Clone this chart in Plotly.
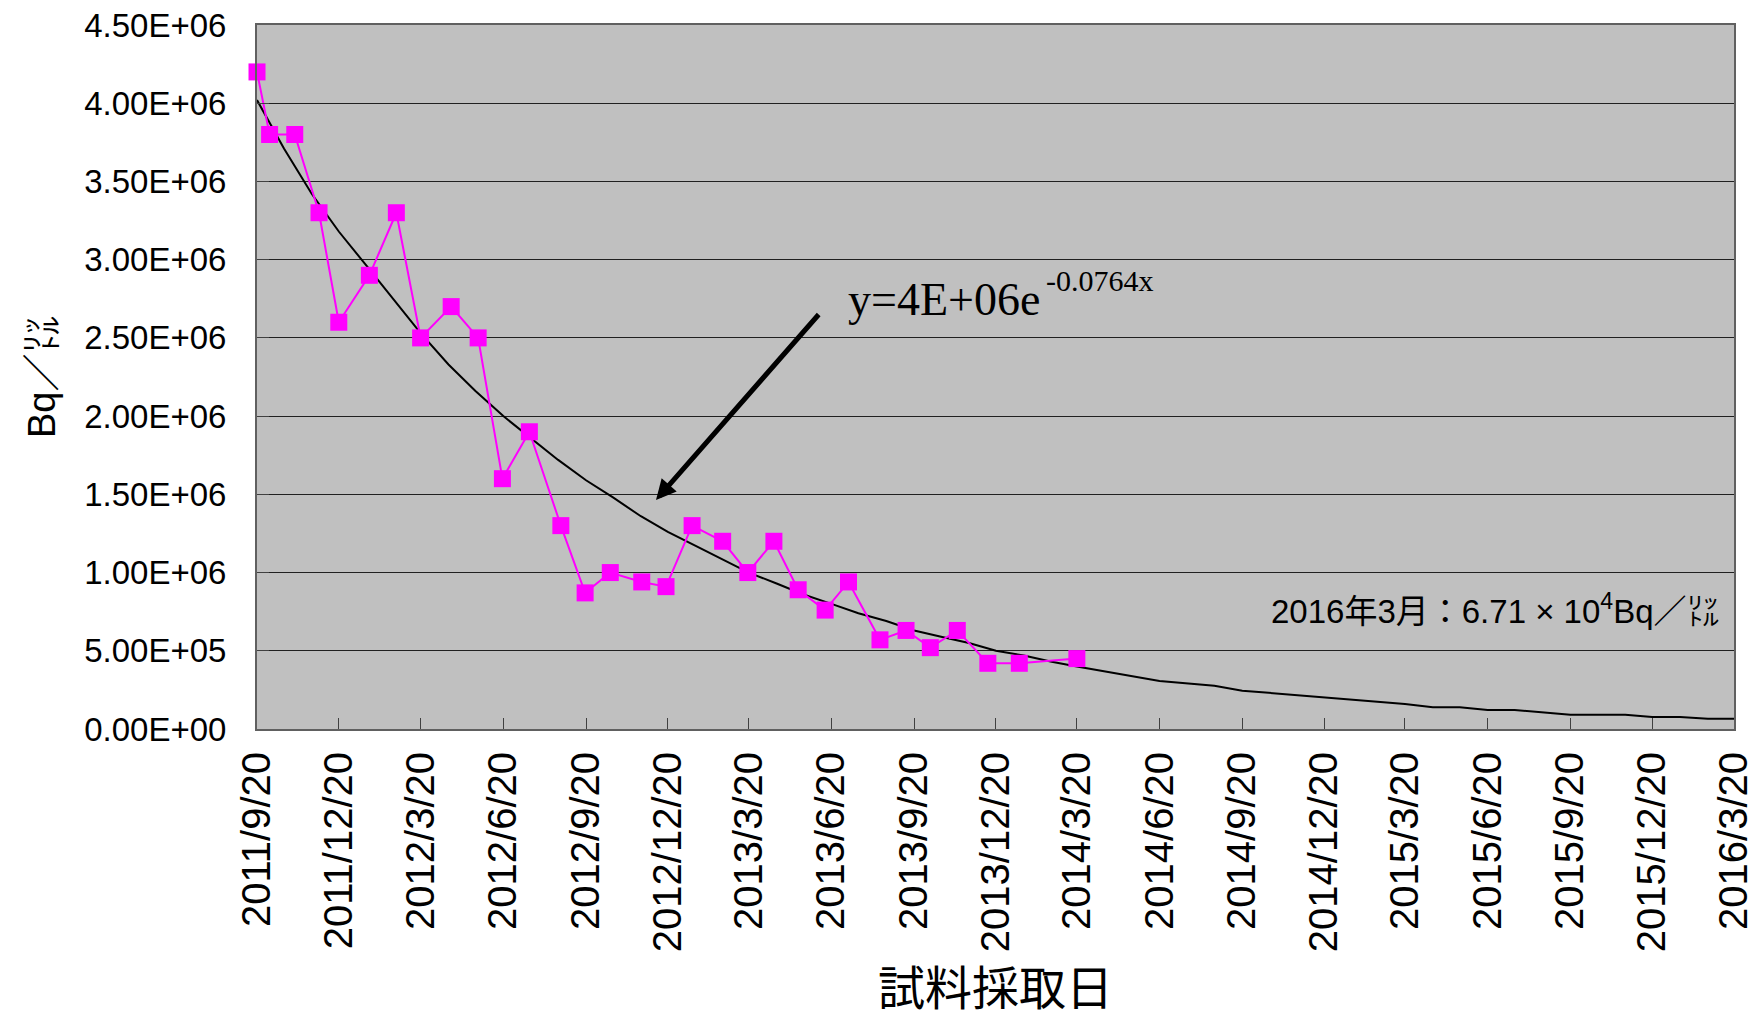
import plotly.graph_objects as go

# ---- data ----
sample_dates = [
    "2011-09-20", "2011-10-04", "2011-11-01", "2011-11-28", "2011-12-20",
    "2012-01-23", "2012-02-22", "2012-03-20", "2012-04-23", "2012-05-23",
    "2012-06-19", "2012-07-19", "2012-08-23", "2012-09-19", "2012-10-17",
    "2012-11-21", "2012-12-18", "2013-01-16", "2013-02-19", "2013-03-19",
    "2013-04-17", "2013-05-14", "2013-06-13", "2013-07-09", "2013-08-13",
    "2013-09-11", "2013-10-08", "2013-11-07", "2013-12-11", "2014-01-15",
    "2014-03-20",
]
sample_values = [
    4.2e6, 3.8e6, 3.8e6, 3.3e6, 2.6e6,
    2.9e6, 3.3e6, 2.5e6, 2.7e6, 2.5e6,
    1.6e6, 1.9e6, 1.3e6, 8.7e5, 1.0e6,
    9.4e5, 9.1e5, 1.3e6, 1.2e6, 1.0e6,
    1.2e6, 8.9e5, 7.6e5, 9.4e5, 5.7e5,
    6.3e5, 5.2e5, 6.3e5, 4.2e5, 4.2e5,
    4.5e5,
]

trend_dates = [
    "2011-09-20", "2011-10-20", "2011-11-20", "2011-12-20", "2012-01-20",
    "2012-02-20", "2012-03-20", "2012-04-20", "2012-05-20", "2012-06-20",
    "2012-07-20", "2012-08-20", "2012-09-20", "2012-10-20", "2012-11-20",
    "2012-12-20", "2013-01-20", "2013-02-20", "2013-03-20", "2013-04-20",
    "2013-05-20", "2013-06-20", "2013-07-20", "2013-08-20", "2013-09-20",
    "2013-10-20", "2013-11-20", "2013-12-20", "2014-01-20", "2014-02-20",
    "2014-03-20", "2014-06-20", "2014-08-20", "2014-09-20", "2014-12-20",
    "2015-03-20", "2015-04-20", "2015-05-20", "2015-06-20", "2015-07-20",
    "2015-09-20", "2015-11-20", "2015-12-20", "2016-01-20", "2016-02-20",
    "2016-03-20",
]
trend_values = [
    4.02e6, 3.71e6, 3.42e6, 3.18e6, 2.96e6,
    2.74e6, 2.53e6, 2.33e6, 2.16e6, 2.00e6,
    1.86e6, 1.72e6, 1.59e6, 1.48e6, 1.36e6,
    1.26e6, 1.17e6, 1.08e6, 1.00e6, 9.3e5,
    8.6e5, 8.0e5, 7.4e5, 6.9e5, 6.3e5,
    5.9e5, 5.5e5, 5.0e5, 4.7e5, 4.3e5,
    4.0e5, 3.07e5, 2.77e5, 2.45e5, 2.0e5,
    1.6e5, 1.39e5, 1.39e5, 1.21e5, 1.21e5,
    9.1e4, 9.1e4, 7.7e4, 7.7e4, 6.5e4,
    6.5e4,
]

x_tick_dates = [
    "2011-09-20", "2011-12-20", "2012-03-20", "2012-06-20", "2012-09-20",
    "2012-12-20", "2013-03-20", "2013-06-20", "2013-09-20", "2013-12-20",
    "2014-03-20", "2014-06-20", "2014-09-20", "2014-12-20", "2015-03-20",
    "2015-06-20", "2015-09-20", "2015-12-20", "2016-03-20",
]
x_tick_labels = [
    "2011/9/20", "2011/12/20", "2012/3/20", "2012/6/20", "2012/9/20",
    "2012/12/20", "2013/3/20", "2013/6/20", "2013/9/20", "2013/12/20",
    "2014/3/20", "2014/6/20", "2014/9/20", "2014/12/20", "2015/3/20",
    "2015/6/20", "2015/9/20", "2015/12/20", "2016/3/20",
]
y_tick_values = [0, 5e5, 1e6, 1.5e6, 2e6, 2.5e6, 3e6, 3.5e6, 4e6, 4.5e6]
y_tick_labels = ["0.00E+00", "5.00E+05", "1.00E+06", "1.50E+06", "2.00E+06",
                 "2.50E+06", "3.00E+06", "3.50E+06", "4.00E+06", "4.50E+06"]

equation_main = "y=4E+06e"
equation_exp = "-0.0764x"
note_text = "2016年3月：6.71 × 10<sup>4</sup>Bq／㍑"
y_title = "Bq／㍑"
x_title = "試料採取日"

SANS = "Liberation Sans, Noto Sans CJK JP, sans-serif"
SERIF = "Liberation Serif, serif"

fig = go.Figure()
fig.add_trace(go.Scatter(
    x=trend_dates, y=trend_values, mode="lines",
    line=dict(color="black", width=2), hoverinfo="skip", cliponaxis=False,
))
fig.add_trace(go.Scatter(
    x=sample_dates, y=sample_values, mode="lines+markers",
    line=dict(color="#FF00FF", width=2),
    marker=dict(symbol="square", size=17, color="#FF00FF"),
    cliponaxis=False,
))

PL, PR, PT, PB = 257, 1734, 25, 729
W, H = 1754, 1019

fig.update_layout(
    width=W, height=H,
    margin=dict(l=PL, r=W - PR, t=PT, b=H - PB, autoexpand=False),
    paper_bgcolor="white", plot_bgcolor="#C0C0C0",
    showlegend=False,
    font=dict(family=SANS, color="black"),
    xaxis=dict(
        type="date", range=["2011-09-20", "2016-03-20 00:30"],
        tickmode="array", tickvals=x_tick_dates, ticktext=x_tick_labels,
        tickangle=-90, ticks="inside", ticklen=11, tickcolor="#404040",
        tickfont=dict(size=40, family=SANS, color="black"),
        ticklabelstandoff=5, ticklabeloverflow="allow", automargin=False,
        showgrid=False, showline=True, linecolor="#606060", linewidth=2,
        mirror=True, zeroline=False,
    ),
    yaxis=dict(
        range=[0, 4.5e6],
        tickmode="array", tickvals=y_tick_values, ticktext=y_tick_labels,
        ticks="inside", ticklen=12, tickcolor="#404040",
        tickfont=dict(size=33, family=SANS, color="black"),
        ticklabelstandoff=22, ticklabeloverflow="allow", automargin=False,
        showgrid=True, gridcolor="#202020", gridwidth=1,
        showline=True, linecolor="#606060", linewidth=2,
        mirror=True, zeroline=False,
    ),
)


def px(xp):
    return (xp - PL) / (PR - PL)


def py(yp):
    return (PB - yp) / (PB - PT)


annotations = [
    # arrow
    dict(xref="paper", yref="paper", x=px(656), y=py(500), text="",
         showarrow=True, arrowhead=2, arrowsize=0.8, arrowwidth=5,
         arrowcolor="black", ax=164, ay=-187, standoff=0),
    # equation (main part and exponent)
    dict(xref="paper", yref="paper", x=px(846), y=py(299), text=equation_main,
         showarrow=False, xanchor="left", yanchor="middle",
         font=dict(family=SERIF, size=46, color="black")),
    dict(xref="paper", yref="paper", x=px(1044), y=py(280), text=equation_exp,
         showarrow=False, xanchor="left", yanchor="middle",
         font=dict(family=SERIF, size=30, color="black")),
    # note
    dict(xref="paper", yref="paper", x=px(1722), y=py(609), text=note_text,
         showarrow=False, xanchor="right", yanchor="middle",
         font=dict(family=SANS, size=33, color="black")),
    # y title
    dict(xref="paper", yref="paper", x=px(42), y=py(377), text=y_title,
         showarrow=False, xanchor="center", yanchor="middle", textangle=-90,
         font=dict(family=SANS, size=38, color="black")),
    # x title
    dict(xref="paper", yref="paper", x=px(995), y=py(984), text=x_title,
         showarrow=False, xanchor="center", yanchor="middle",
         font=dict(family="Noto Sans CJK JP, sans-serif", size=47, color="black")),
]
fig.update_layout(annotations=annotations)

fig.write_html(
    "out.html",
    config={"displayModeBar": False},
    post_script="document.body.style.margin='0';document.body.style.overflow='hidden';",
)
